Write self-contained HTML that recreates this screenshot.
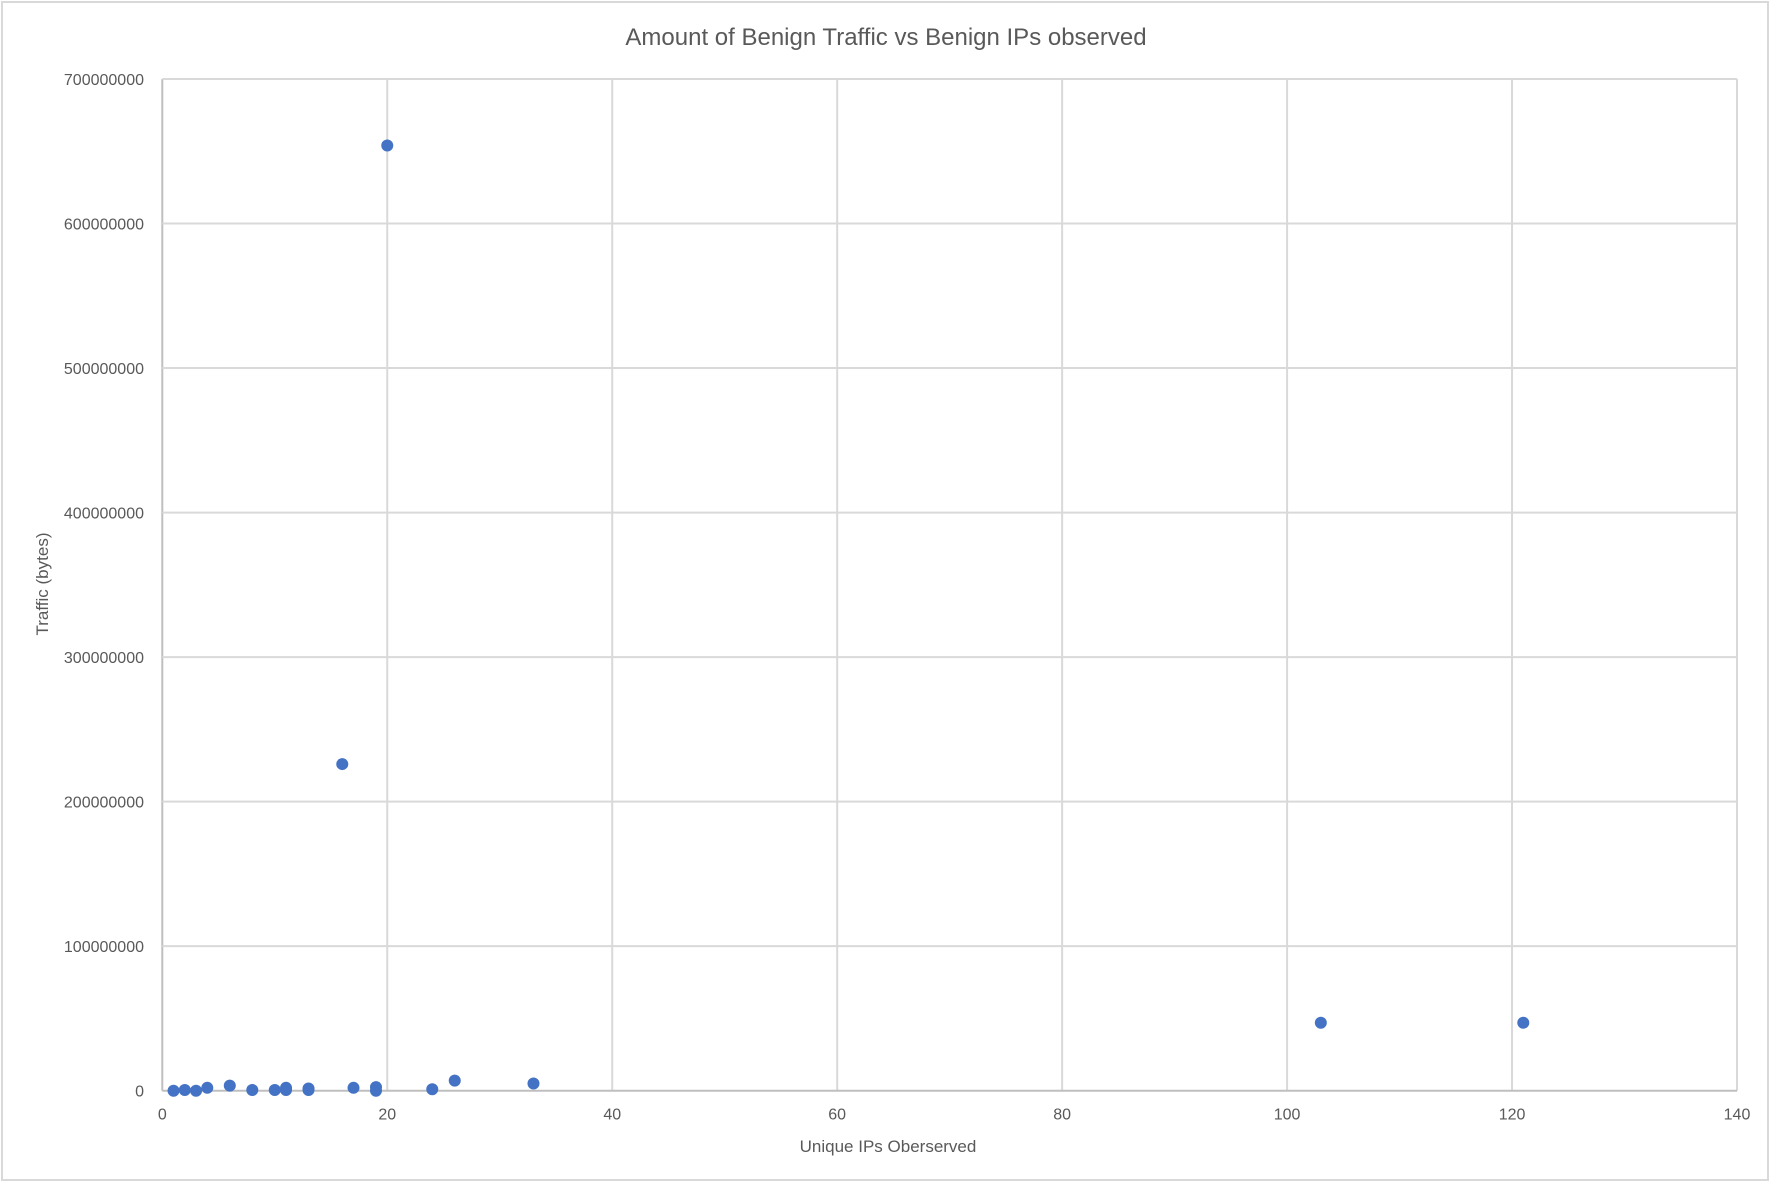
<!DOCTYPE html>
<html><head><meta charset="utf-8"><style>
body{margin:0;background:#fff;}
svg{display:block;font-family:"Liberation Sans",sans-serif;}
</style></head><body>
<svg id="chart" width="1772" height="1183">
<rect x="2" y="2" width="1766" height="1178" fill="#fff" stroke="#d9d9d9" stroke-width="2"/>
<text x="886" y="45" text-anchor="middle" font-size="24" fill="#595959">Amount of Benign Traffic vs Benign IPs observed</text>
<text x="888" y="1152" text-anchor="middle" font-size="17" fill="#595959">Unique IPs Oberserved</text>
<text transform="translate(48,584) rotate(-90)" text-anchor="middle" font-size="17" fill="#595959">Traffic (bytes)</text>
<g id="grid"></g><g id="ticks"></g><g id="pts"></g>
</svg>
<script>
const xTicks=[0,20,40,60,80,100,120,140];
const yTicks=[0,100000000,200000000,300000000,400000000,500000000,600000000,700000000];
const xVals=[1,2,3,4,6,8,10,11,11,13,13,17,19,19,24,26,33,16,20,103,121];
const yVals=[0,500000,0,2000000,3500000,500000,500000,2000000,500000,1500000,500000,2000000,2500000,0,1000000,7000000,5000000,226000000,654000000,47000000,47000000];
const X0=162.3,X1=1737,Y0=1090.7,Y1=79;
const sx=v=>X0+(v-0)/(140-0)*(X1-X0);
const sy=v=>Y0-(v-0)/(700000000-0)*(Y0-Y1);
const NS="http://www.w3.org/2000/svg";
const grid=document.getElementById('grid'),ticks=document.getElementById('ticks'),pts=document.getElementById('pts');
function mk(t,a,p){const e=document.createElementNS(NS,t);for(const k in a)e.setAttribute(k,a[k]);p.appendChild(e);return e;}
xTicks.forEach(v=>{
 const l=mk('line',{x1:sx(v),x2:sx(v),y1:Y1,y2:Y0,stroke:v===0?'#bfbfbf':'#d9d9d9','stroke-width':2},grid);
 
 
 const t=mk('text',{x:sx(v),y:Y0+29,'text-anchor':'middle','font-size':16,fill:'#595959'},ticks);t.textContent=v;
 
 
});
yTicks.forEach(v=>{
 const l=mk('line',{x1:X0,x2:X1,y1:sy(v),y2:sy(v),stroke:v===0?'#bfbfbf':'#d9d9d9','stroke-width':2},grid);
 
 
 const t=mk('text',{x:144,y:sy(v)+6,'text-anchor':'end','font-size':16,fill:'#595959'},ticks);t.textContent=v;
 
 
});
xVals.forEach((v,i)=>{
 const c=mk('circle',{cx:sx(v),cy:sy(yVals[i]),r:6,fill:'#4472c4'},pts);
 
 
});
</script>
</body></html>
